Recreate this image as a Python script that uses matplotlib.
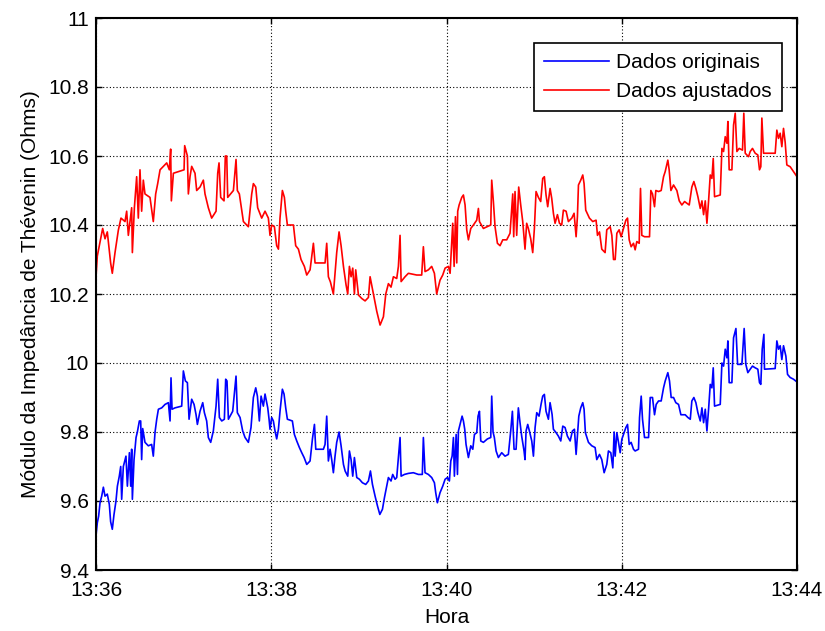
import matplotlib
matplotlib.use("Agg")
import matplotlib.pyplot as plt

plt.rcParams["font.family"] = ["Liberation Sans", "DejaVu Sans"]

# Time axis: minutes elapsed since 13:36
x_ticks = [0, 2, 4, 6, 8]
x_tick_labels = ["13:36", "13:38", "13:40", "13:42", "13:44"]
y_ticks = [9.4, 9.6, 9.8, 10.0, 10.2, 10.4, 10.6, 10.8, 11.0]
y_tick_labels = ["9.4", "9.6", "9.8", "10", "10.2", "10.4", "10.6", "10.8", "11"]

series_labels = ["Dados originais", "Dados ajustados"]

# Thévenin impedance magnitude, original measurements (Ohms)
orig_minutes = [
    0.000, 0.015, 0.030, 0.046, 0.065, 0.084, 0.103, 0.129, 0.152, 0.167,
    0.186, 0.205, 0.228, 0.244, 0.266, 0.282, 0.293, 0.312, 0.342, 0.358,
    0.381, 0.396, 0.407, 0.415, 0.434, 0.457, 0.472, 0.495, 0.510, 0.521,
    0.533, 0.559, 0.597, 0.635, 0.654, 0.674, 0.693, 0.712, 0.750, 0.788,
    0.826, 0.845, 0.856, 0.868, 0.902, 0.978, 0.997, 1.020, 1.043, 1.062,
    1.092, 1.119, 1.142, 1.157, 1.187, 1.218, 1.237, 1.263, 1.282, 1.309,
    1.339, 1.370, 1.389, 1.408, 1.435, 1.465, 1.480, 1.495, 1.511, 1.560,
    1.598, 1.613, 1.644, 1.674, 1.701, 1.739, 1.769, 1.796, 1.823, 1.842,
    1.864, 1.884, 1.910,
    1.929, 1.960, 1.975, 1.986, 2.005, 2.024, 2.043, 2.062, 2.082, 2.100,
    2.127, 2.146, 2.165, 2.184, 2.241, 2.264, 2.291, 2.321, 2.348, 2.375,
    2.405, 2.443, 2.470, 2.493, 2.508, 2.595, 2.614, 2.633, 2.652, 2.671,
    2.690, 2.709, 2.728, 2.747, 2.774, 2.797, 2.824, 2.843, 2.873, 2.892,
    2.911, 2.930, 2.949, 2.976, 3.006, 3.040, 3.078, 3.109, 3.132, 3.155,
    3.185, 3.212, 3.239, 3.269, 3.292, 3.318, 3.337, 3.367, 3.386, 3.413,
    3.432, 3.451, 3.470, 3.482, 3.520, 3.565, 3.622, 3.679, 3.724, 3.736,
    3.755, 3.793, 3.831, 3.862, 3.877, 3.896, 3.926,
    3.957, 3.984, 4.011, 4.033, 4.049, 4.064, 4.079, 4.090, 4.110, 4.125,
    4.136, 4.155, 4.178, 4.193, 4.208, 4.223, 4.250, 4.277, 4.300, 4.319,
    4.345, 4.360, 4.376, 4.391, 4.421, 4.467, 4.505, 4.516, 4.531, 4.546,
    4.566, 4.592, 4.630, 4.668, 4.706, 4.733, 4.752, 4.771, 4.794, 4.820,
    4.839, 4.858, 4.885, 4.896, 4.908, 4.927, 4.946, 4.973, 4.992, 5.011,
    5.030, 5.056, 5.079, 5.098, 5.117, 5.136, 5.163, 5.182, 5.205, 5.220,
    5.251, 5.277, 5.304, 5.327, 5.353, 5.380, 5.411, 5.437, 5.460, 5.479,
    5.494, 5.510, 5.532, 5.555, 5.570, 5.585, 5.620, 5.658, 5.696, 5.715,
    5.746, 5.772, 5.799, 5.829, 5.848, 5.875, 5.898, 5.913,
    5.925, 5.944, 5.963, 5.982, 6.001, 6.020, 6.047, 6.066, 6.085, 6.107,
    6.134, 6.153, 6.191, 6.203, 6.222, 6.237, 6.260, 6.306, 6.325, 6.351,
    6.374, 6.393, 6.420, 6.450, 6.477, 6.496, 6.526, 6.545, 6.564, 6.591,
    6.617, 6.648, 6.675, 6.724, 6.755, 6.782, 6.800, 6.823, 6.846, 6.869,
    6.896, 6.915, 6.934, 6.953, 6.972, 6.991, 7.010, 7.029, 7.044, 7.059,
    7.124, 7.143, 7.162, 7.181, 7.200, 7.211, 7.226, 7.257, 7.276, 7.303,
    7.322, 7.371, 7.397, 7.416, 7.439, 7.466, 7.492, 7.523, 7.553, 7.572,
    7.587, 7.603, 7.622, 7.629, 7.751, 7.770, 7.789, 7.808, 7.827, 7.846,
    7.873, 7.892, 7.922, 7.960, 8.000,
]
orig_ohms = [
    9.50, 9.537, 9.556, 9.595, 9.614, 9.64, 9.614, 9.62, 9.59, 9.54,
    9.518, 9.56, 9.60, 9.643, 9.672, 9.70, 9.605, 9.70, 9.73, 9.643,
    9.74, 9.643, 9.75, 9.605, 9.72, 9.784, 9.80, 9.832, 9.832, 9.72,
    9.81, 9.77, 9.76, 9.764, 9.73, 9.80, 9.837, 9.866, 9.87, 9.88,
    9.885, 9.832, 9.957, 9.866, 9.87, 9.875, 9.977, 9.948, 9.943, 9.837,
    9.895, 9.88, 9.85, 9.822, 9.86, 9.885, 9.856, 9.832, 9.784, 9.77,
    9.803, 9.875, 9.953, 9.842, 9.832, 9.837, 9.953, 9.948, 9.837, 9.86,
    9.962, 9.856, 9.842, 9.803, 9.784, 9.77, 9.813, 9.90, 9.928, 9.904,
    9.832, 9.904, 9.875,
    9.91, 9.87, 9.837, 9.808, 9.842, 9.832, 9.803, 9.78, 9.808, 9.86,
    9.924, 9.91, 9.87, 9.837, 9.832, 9.793, 9.774, 9.755, 9.74, 9.726,
    9.706, 9.716, 9.78, 9.822, 9.75, 9.75, 9.764, 9.846, 9.716, 9.75,
    9.72, 9.682, 9.73, 9.77, 9.80, 9.76, 9.706, 9.687, 9.672, 9.745,
    9.72, 9.672, 9.726, 9.668, 9.663, 9.653, 9.648, 9.658, 9.687, 9.648,
    9.614, 9.586, 9.561, 9.576, 9.61, 9.643, 9.668, 9.658, 9.677, 9.663,
    9.668, 9.726, 9.784, 9.672, 9.677, 9.68, 9.682, 9.677, 9.677, 9.784,
    9.682, 9.677, 9.668, 9.653, 9.624, 9.595, 9.624,
    9.643, 9.663, 9.668, 9.658, 9.716, 9.73, 9.784, 9.672, 9.793, 9.677,
    9.803, 9.822, 9.846, 9.832, 9.808, 9.764, 9.726, 9.76, 9.75, 9.793,
    9.798, 9.846, 9.86, 9.774, 9.77, 9.78, 9.784, 9.904, 9.80, 9.784,
    9.745, 9.726, 9.74, 9.73, 9.735, 9.803, 9.86, 9.75, 9.75, 9.87,
    9.827, 9.788, 9.745, 9.72, 9.803, 9.822, 9.803, 9.774, 9.73, 9.813,
    9.856, 9.846, 9.88, 9.904, 9.909, 9.86, 9.837, 9.885, 9.851, 9.808,
    9.798, 9.788, 9.774, 9.817, 9.813, 9.788, 9.774, 9.803, 9.808, 9.735,
    9.788, 9.846, 9.87, 9.885, 9.866, 9.798, 9.77, 9.76, 9.755, 9.72,
    9.735, 9.72, 9.682, 9.706, 9.745, 9.74, 9.696, 9.80,
    9.73, 9.798, 9.77, 9.74, 9.779, 9.793, 9.813, 9.822, 9.764, 9.77,
    9.75, 9.745, 9.75, 9.842, 9.904, 9.837, 9.784, 9.784, 9.90, 9.90,
    9.85, 9.88, 9.89, 9.89, 9.928, 9.948, 9.972, 9.948, 9.90, 9.90,
    9.885, 9.88, 9.85, 9.85, 9.842, 9.837, 9.89, 9.90, 9.885, 9.856,
    9.832, 9.87, 9.827, 9.866, 9.803, 9.866, 9.938, 9.928, 9.986, 9.875,
    9.88, 10.00, 9.991, 10.04, 10.015, 10.064, 9.943, 9.943, 10.073, 10.10,
    9.996, 9.996, 10.10, 9.996, 9.972, 9.982, 9.991, 9.986, 9.982, 9.943,
    9.938, 10.04, 10.083, 9.982, 9.984, 10.064, 10.04, 10.05, 10.01, 10.05,
    10.02, 9.967, 9.958, 9.953, 9.945,
]

# Thévenin impedance magnitude, adjusted values (Ohms)
adj_minutes = [
    0.000, 0.015, 0.038, 0.076, 0.103, 0.129, 0.167, 0.186, 0.217, 0.255,
    0.285, 0.331, 0.350, 0.369, 0.407, 0.415, 0.438, 0.464, 0.483, 0.502,
    0.521, 0.540, 0.559, 0.616, 0.654, 0.681, 0.704, 0.731, 0.807, 0.837,
    0.852, 0.860, 0.883, 1.005, 1.012, 1.043, 1.054, 1.073, 1.092, 1.130,
    1.149, 1.187, 1.225, 1.244, 1.282, 1.320, 1.370, 1.389, 1.404, 1.423,
    1.461, 1.476, 1.492, 1.503, 1.568, 1.598, 1.613, 1.636, 1.682, 1.739,
    1.777, 1.796, 1.823, 1.845, 1.891,
    1.929, 1.967, 1.986, 2.005, 2.036, 2.062, 2.082, 2.100, 2.127, 2.150,
    2.165, 2.184, 2.253, 2.279, 2.310, 2.340, 2.378, 2.405, 2.443, 2.481,
    2.500, 2.614, 2.633, 2.652, 2.675, 2.709, 2.728, 2.747, 2.774, 2.797,
    2.824, 2.854, 2.873, 2.892, 2.911, 2.930, 2.949, 2.964, 2.995, 3.033,
    3.071, 3.109, 3.128, 3.166, 3.204, 3.242, 3.280, 3.307, 3.337, 3.367,
    3.394, 3.432, 3.451, 3.470, 3.482, 3.527, 3.565, 3.660, 3.717, 3.736,
    3.755, 3.793, 3.831, 3.862, 3.888, 3.926,
    3.957, 3.984, 4.022, 4.041, 4.053, 4.071, 4.087, 4.102, 4.117, 4.128,
    4.144, 4.174, 4.193, 4.212, 4.231, 4.250, 4.277, 4.307, 4.345, 4.364,
    4.376, 4.421, 4.505, 4.516, 4.535, 4.554, 4.581, 4.611, 4.642, 4.687,
    4.725, 4.744, 4.756, 4.767, 4.782, 4.801, 4.824, 4.847, 4.870, 4.896,
    4.915, 4.934, 4.961, 4.984, 5.003, 5.022, 5.049, 5.075, 5.098, 5.117,
    5.136, 5.155, 5.182, 5.201, 5.220, 5.239, 5.266, 5.289, 5.315, 5.334,
    5.365, 5.391, 5.430, 5.456, 5.479, 5.494, 5.506, 5.532, 5.555, 5.570,
    5.589, 5.631, 5.669, 5.707, 5.723, 5.746, 5.772, 5.810, 5.829, 5.868,
    5.887, 5.906,
    5.925, 5.944, 5.970, 5.993, 6.020, 6.047, 6.066, 6.085, 6.107, 6.134,
    6.153, 6.172, 6.199, 6.214, 6.229, 6.260, 6.317, 6.332, 6.351, 6.374,
    6.389, 6.420, 6.450, 6.477, 6.496, 6.526, 6.541, 6.561, 6.591, 6.629,
    6.656, 6.686, 6.717, 6.743, 6.770, 6.800, 6.823, 6.846, 6.869, 6.896,
    6.915, 6.934, 6.953, 6.972, 6.991, 7.010, 7.029, 7.044, 7.059, 7.124,
    7.143, 7.162, 7.181, 7.200, 7.211, 7.226, 7.257, 7.276, 7.295, 7.314,
    7.340, 7.378, 7.393, 7.409, 7.447, 7.466, 7.492, 7.523, 7.553, 7.572,
    7.587, 7.599, 7.618, 7.751, 7.770, 7.789, 7.808, 7.827, 7.846, 7.865,
    7.884, 7.922, 7.960, 8.000,
]
adj_ohms = [
    10.25, 10.31, 10.34, 10.39, 10.36, 10.38, 10.29, 10.26, 10.32, 10.385,
    10.42, 10.41, 10.44, 10.37, 10.45, 10.32, 10.45, 10.54, 10.42, 10.56,
    10.44, 10.53, 10.49, 10.48, 10.41, 10.49, 10.52, 10.56, 10.58, 10.56,
    10.62, 10.47, 10.55, 10.56, 10.63, 10.60, 10.49, 10.54, 10.57, 10.55,
    10.50, 10.51, 10.53, 10.49, 10.45, 10.42, 10.44, 10.55, 10.58, 10.48,
    10.47, 10.60, 10.60, 10.48, 10.50, 10.59, 10.50, 10.49, 10.41, 10.395,
    10.49, 10.52, 10.51, 10.45, 10.42,
    10.44, 10.42, 10.37, 10.40, 10.395, 10.34, 10.33, 10.42, 10.50, 10.48,
    10.44, 10.40, 10.40, 10.34, 10.33, 10.30, 10.28, 10.255, 10.27, 10.347,
    10.29, 10.29, 10.347, 10.25, 10.235, 10.20, 10.26, 10.32, 10.38, 10.34,
    10.28, 10.226, 10.20, 10.28, 10.25, 10.275, 10.20, 10.27, 10.197, 10.187,
    10.18, 10.19, 10.25, 10.20, 10.15, 10.11, 10.134, 10.20, 10.23, 10.22,
    10.25, 10.245, 10.28, 10.37, 10.236, 10.25, 10.26, 10.255, 10.255, 10.337,
    10.265, 10.27, 10.28, 10.26, 10.20, 10.24,
    10.255, 10.275, 10.28, 10.26, 10.32, 10.405, 10.28, 10.424, 10.29, 10.44,
    10.458, 10.48, 10.487, 10.458, 10.386, 10.357, 10.39, 10.40, 10.414, 10.448,
    10.41, 10.39, 10.40, 10.53, 10.468, 10.395, 10.347, 10.34, 10.357, 10.357,
    10.376, 10.448, 10.49, 10.366, 10.497, 10.37, 10.51, 10.458, 10.41, 10.33,
    10.405, 10.39, 10.36, 10.32, 10.39, 10.497, 10.48, 10.468, 10.535, 10.54,
    10.487, 10.453, 10.506, 10.477, 10.434, 10.405, 10.43, 10.405, 10.40, 10.443,
    10.44, 10.41, 10.42, 10.434, 10.366, 10.424, 10.516, 10.53, 10.545, 10.52,
    10.443, 10.42, 10.41, 10.414, 10.37, 10.38, 10.33, 10.32, 10.386, 10.395,
    10.37, 10.30,
    10.30, 10.376, 10.386, 10.366, 10.39, 10.414, 10.42, 10.357, 10.337, 10.347,
    10.328, 10.352, 10.347, 10.506, 10.37, 10.366, 10.366, 10.50, 10.49, 10.453,
    10.50, 10.497, 10.50, 10.54, 10.555, 10.588, 10.56, 10.50, 10.516, 10.50,
    10.47, 10.458, 10.468, 10.463, 10.458, 10.51, 10.526, 10.506, 10.482, 10.448,
    10.47, 10.43, 10.47, 10.405, 10.47, 10.545, 10.535, 10.593, 10.482, 10.487,
    10.622, 10.613, 10.656, 10.637, 10.70, 10.56, 10.56, 10.69, 10.724, 10.613,
    10.622, 10.617, 10.724, 10.608, 10.598, 10.613, 10.622, 10.608, 10.603, 10.56,
    10.569, 10.71, 10.608, 10.608, 10.675, 10.651, 10.666, 10.627, 10.68, 10.64,
    10.574, 10.569, 10.555, 10.54,
]

FS = 15

fig = plt.figure(figsize=(8.25, 6.31), dpi=100)
ax = fig.add_axes([96 / 825, 61 / 631, 701 / 825, 552 / 631])

ax.plot(orig_minutes, orig_ohms, color=(0, 0, 1), lw=1.2, label=series_labels[0])
ax.plot(adj_minutes, adj_ohms, color=(1, 0, 0), lw=1.2, label=series_labels[1])

ax.set_xlim(x_ticks[0], x_ticks[-1])
ax.set_ylim(y_ticks[0], y_ticks[-1])
ax.set_xticks(x_ticks)
ax.set_xticklabels(x_tick_labels)
ax.set_yticks(y_ticks)
ax.set_yticklabels(y_tick_labels)

ax.grid(True, color="black", linestyle=(0, (1, 2)), linewidth=0.8)
ax.tick_params(direction="in", length=4, width=1.0, top=True, right=True,
               labelsize=FS, colors="black")
ax.tick_params(axis="y", pad=5)
ax.tick_params(axis="x", pad=8)
for sp in ax.spines.values():
    sp.set_linewidth(1.5)
    sp.set_color("black")

ax.set_xlabel("Hora", fontsize=FS, labelpad=6)
ax.set_ylabel("Módulo da Impedância de Thévenin (Ohms)", fontsize=FS, labelpad=6)

leg = ax.legend(loc="upper right", bbox_to_anchor=((782 - 96) / 701, (570 - 43) / 552),
                borderaxespad=0, fontsize=FS, fancybox=False, framealpha=1,
                edgecolor="black", handlelength=3.1, handletextpad=0.35,
                labelspacing=0.45, borderpad=0.5)
leg.get_frame().set_linewidth(1.2)

fig.savefig("out.png", dpi=100)
